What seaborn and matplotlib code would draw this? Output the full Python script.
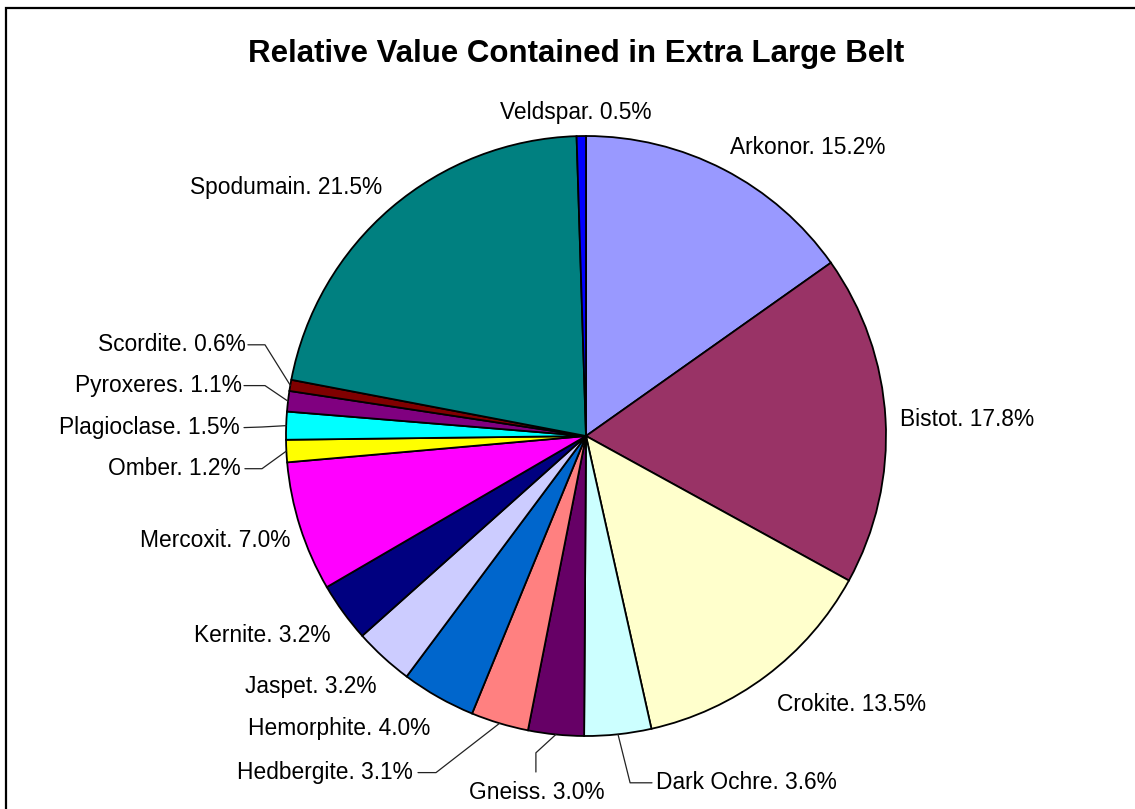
import matplotlib
matplotlib.use("Agg")
import matplotlib.pyplot as plt
import seaborn as sns
import numpy as np
from matplotlib.patches import Rectangle

sns.set_theme(style="white")
plt.rcParams['font.family'] = ['Liberation Sans', 'DejaVu Sans']
plt.rcParams['text.color'] = 'black'

# Ore types and their share of belt value (%), clockwise from 12 o'clock
ores = ["Arkonor", "Bistot", "Crokite", "Dark Ochre", "Gneiss", "Hedbergite",
        "Hemorphite", "Jaspet", "Kernite", "Mercoxit", "Omber", "Plagioclase",
        "Pyroxeres", "Scordite", "Spodumain", "Veldspar"]
shares = [15.2, 17.8, 13.5, 3.6, 3.0, 3.1, 4.0, 3.2, 3.2, 7.0, 1.2, 1.5,
          1.1, 0.6, 21.5, 0.5]
colors = ["#9999FF", "#993366", "#FFFFCC", "#CCFFFF", "#660066", "#FF8080",
          "#0066CC", "#CCCCFF", "#000080", "#FF00FF", "#FFFF00", "#00FFFF",
          "#800080", "#800000", "#008080", "#0000FF"]

# Label placement (axes data units, pie radius = 1): x, y, horizontal alignment
label_pos = {
    "Veldspar": (-0.033, 1.078, "center"),
    "Arkonor": (0.48, 0.961, "left"),
    "Bistot": (1.047, 0.054, "left"),
    "Crokite": (0.637, -0.896, "left"),
    "Dark Ochre": (0.233, -1.156, "left"),
    "Gneiss": (-0.163, -1.189, "center"),
    "Hedbergite": (-0.577, -1.122, "right"),
    "Hemorphite": (-0.52, -0.975, "right"),
    "Jaspet": (-0.697, -0.836, "right"),
    "Kernite": (-0.853, -0.666, "right"),
    "Mercoxit": (-0.987, -0.349, "right"),
    "Omber": (-1.15, -0.109, "right"),
    "Plagioclase": (-1.153, 0.028, "right"),
    "Pyroxeres": (-1.147, 0.168, "right"),
    "Scordite": (-1.133, 0.304, "right"),
    "Spodumain": (-0.68, 0.828, "right"),
}
# Leader line paths: text-side end point and elbow point
leaders = {
    "Scordite": [(-1.127, 0.304), (-1.07, 0.304)],
    "Pyroxeres": [(-1.14, 0.168), (-1.07, 0.168)],
    "Plagioclase": [(-1.14, 0.028), (-1.08, 0.030)],
    "Omber": [(-1.137, -0.109), (-1.08, -0.109)],
    "Hedbergite": [(-0.56, -1.122), (-0.5, -1.122)],
    "Gneiss": [(-0.167, -1.12), (-0.167, -1.056)],
    "Dark Ochre": [(0.22, -1.156), (0.147, -1.156)],
}

fig = plt.figure(figsize=(11.35, 8.09), dpi=100)
fig.patch.set_facecolor("white")

W, H = 1135, 809
cx, cy, r = 586, 436, 300
ax = fig.add_axes([(cx - r) / W, (H - cy - r) / H, 2 * r / W, 2 * r / H])

wedges, _ = ax.pie(shares, colors=colors, startangle=90, counterclock=False,
                   radius=1.0, center=(0, 0),
                   wedgeprops=dict(edgecolor="black", linewidth=1.3))
ax.set_xlim(-1, 1)
ax.set_ylim(-1, 1)
ax.set_aspect("equal")
ax.axis("off")

for w, name, val in zip(wedges, ores, shares):
    x, y, ha = label_pos[name]
    ax.text(x, y, f"{name}. {val:.1f}%", ha=ha, va="center", fontsize=16.4,
            color="black", clip_on=False)
    if name in leaders:
        mid = np.deg2rad((w.theta1 + w.theta2) / 2)
        edge = (np.cos(mid), np.sin(mid))
        pts = leaders[name] + [edge]
        xs, ys = zip(*pts)
        ax.plot(xs, ys, color="#222222", linewidth=0.9, clip_on=False)

fig.text(576 / W, 1 - 54 / H, "Relative Value Contained in Extra Large Belt",
         ha="center", va="center", fontsize=22.5, fontweight="bold",
         color="black")

# Chart border
fig.patches.append(Rectangle((6 / W, -0.1), 1.2, 1 - 8 / H + 0.1,
                             transform=fig.transFigure, fill=False,
                             edgecolor="black", linewidth=1.6))

fig.savefig("out.png", dpi=100, facecolor="white")
